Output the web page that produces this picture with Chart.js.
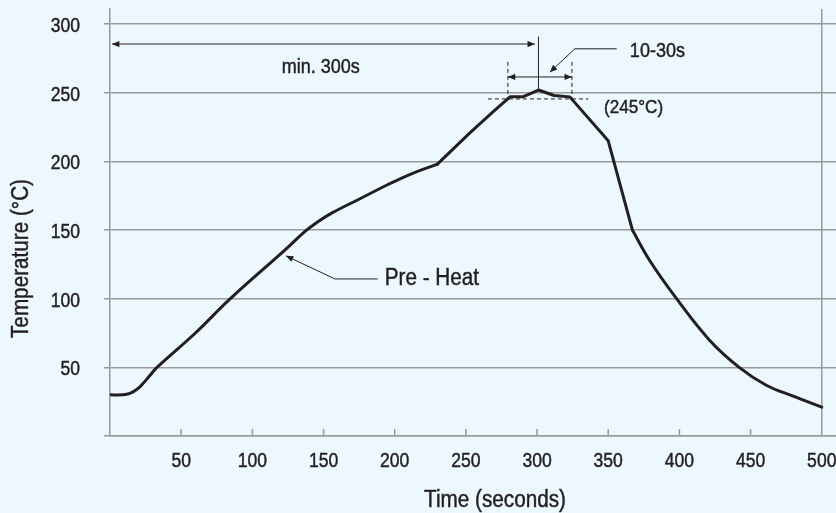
<!DOCTYPE html>
<html>
<head>
<meta charset="utf-8">
<script src="https://cdn.jsdelivr.net/npm/chart.js@4.4.0/dist/chart.umd.min.js"></script>
<style>
  html, body { margin: 0; padding: 0; background: #edf7fe; }
  #wrap { width: 836px; height: 513px; }
</style>
</head>
<body>
<div id="wrap"><canvas id="reflow"></canvas></div>
<script>
// Reflow soldering profile
const timeSec = [0, 9, 14, 19, 23, 28, 33, 60, 84, 123, 137, 146, 156, 176, 195, 213, 230, 253, 270, 281, 290, 301, 312, 323, 350, 367, 379, 398, 421, 442, 461, 480, 500];
const tempC   = [30, 30, 31, 34, 38, 44, 50, 75, 99.5, 135.5, 149, 156, 162.5, 173, 183, 191.5, 198, 221, 237, 247, 247, 252, 248, 247, 215, 150, 128, 100, 70, 50, 37, 29, 21];
const xTickValues = [0, 50, 100, 150, 200, 250, 300, 350, 400, 450, 500];
const yTickValues = [0, 50, 100, 150, 200, 250, 300];
const xTitle = 'Time (seconds)';
const yTitle = 'Temperature (°C)';
// where the curve has a hard corner: smooth between, straight in the reflow zone
const kinks = [230, 367];

const FONT = '"Liberation Sans", Arial, sans-serif';
const SQUEEZE = 0.9;   // condensed look
const INK = '#231f20';
const GRID = '#9a9a9a';

// --- helpers ---
function arrowHead(ctx, x0, y0, x1, y1, size) {
    const a = Math.atan2(y1 - y0, x1 - x0);
    ctx.beginPath();
    ctx.moveTo(x1, y1);
    ctx.lineTo(x1 - size * Math.cos(a - 0.4), y1 - size * Math.sin(a - 0.4));
    ctx.lineTo(x1 - size * Math.cos(a + 0.4), y1 - size * Math.sin(a + 0.4));
    ctx.closePath();
    ctx.fill();
}

function line(ctx, pts) {
    ctx.beginPath();
    ctx.moveTo(pts[0][0], pts[0][1]);
    pts.slice(1).forEach(p => ctx.lineTo(p[0], p[1]));
    ctx.stroke();
}

function text(ctx, str, x, y, size, align, rot) {
    ctx.save();
    ctx.translate(x, y);
    if (rot) ctx.rotate(rot);
    ctx.scale(SQUEEZE, 1);
    ctx.font = size + 'px ' + FONT;
    ctx.textAlign = align;
    ctx.textBaseline = 'alphabetic';
    ctx.fillStyle = INK;
    ctx.strokeStyle = INK;
    ctx.lineWidth = 0.45;
    ctx.fillText(str, 0, 0);
    ctx.strokeText(str, 0, 0);
    ctx.restore();
}

// inward x ticks, tick labels, titles and the annotations
const profileNotes = {
    id: 'profileNotes',
    beforeDatasetsDraw(chart) {
        const { ctx, chartArea: a, scales: { x } } = chart;
        ctx.save();
        ctx.strokeStyle = GRID;
        ctx.lineWidth = 1.5;
        x.ticks.forEach(t => {
            if (t.value === 0) return;
            const px = x.getPixelForValue(t.value);
            line(ctx, [[px, a.bottom], [px, t.value === 500 ? a.top : a.bottom - 7]]);
        });
        ctx.restore();
    },
    afterDatasetsDraw(chart) {
        const { ctx, chartArea: a, scales: { x, y } } = chart;
        const P = (t, v) => [x.getPixelForValue(t), y.getPixelForValue(v)];

        // tick labels + axis titles
        x.ticks.forEach(t => {
            if (t.value) text(ctx, String(t.value), x.getPixelForValue(t.value), a.bottom + 31, 19.5, 'center');
        });
        y.ticks.forEach(t => {
            if (t.value) text(ctx, String(t.value), a.left - 30, y.getPixelForValue(t.value) + 8, 19.5, 'right');
        });
        text(ctx, xTitle, 495, chart.height - 6, 23, 'center');
        text(ctx, yTitle, 28, chart.height / 2 + 2, 23, 'center', -Math.PI / 2);

        ctx.save();
        ctx.strokeStyle = INK;
        ctx.fillStyle = INK;
        ctx.lineWidth = 1;

        // min. 300s span
        const m0 = P(1.4, 285.5), m1 = P(298.5, 285.5);
        line(ctx, [m0, m1]);
        arrowHead(ctx, m1[0], m1[1], m0[0], m0[1], 8);
        arrowHead(ctx, m0[0], m0[1], m1[0], m1[1], 8);

        // peak marker
        line(ctx, [P(301, 291), P(301, 252)]);

        // 10-30s window
        ctx.setLineDash([4, 3]);
        line(ctx, [P(279.5, 272.5), P(279.5, 245.5)]);
        line(ctx, [P(324.5, 272.5), P(324.5, 245.5)]);
        line(ctx, [P(265.5, 245.5), P(336, 245.5)]);
        ctx.setLineDash([]);
        const w0 = P(279.5, 261.5), w1 = P(324.5, 261.5);
        line(ctx, [w0, w1]);
        arrowHead(ctx, w1[0], w1[1], w0[0], w0[1], 8);
        arrowHead(ctx, w0[0], w0[1], w1[0], w1[1], 8);

        // leaders
        const l1 = [P(356, 282), P(326.5, 282), P(309, 265)];
        line(ctx, l1);
        arrowHead(ctx, l1[1][0], l1[1][1], l1[2][0], l1[2][1], 8);
        const l2 = [P(188, 114.4), P(158, 114.4), P(123.6, 131.2)];
        line(ctx, l2);
        arrowHead(ctx, l2[1][0], l2[1][1], l2[2][0], l2[2][1], 8);
        ctx.restore();

        // annotation labels
        let p = P(148, 264.6);
        text(ctx, 'min. 300s', p[0], p[1], 20, 'center');
        p = P(365.2, 276.2);
        text(ctx, '10-30s', p[0], p[1], 20, 'left');
        p = P(347, 235.4);
        text(ctx, '(245°C)', p[0], p[1], 19, 'left');
        p = P(193, 110);
        text(ctx, 'Pre - Heat', p[0], p[1], 23, 'left');
    }
};

const points = timeSec.map((t, i) => ({ x: t, y: tempC[i] }));
const section = (from, to) => points.filter(p => p.x >= from && p.x <= to);
const curveStyle = {
    borderColor: INK,
    borderWidth: 3,
    borderJoinStyle: 'round',
    borderCapStyle: 'round',
    pointRadius: 0,
    fill: false
};

new Chart(document.getElementById('reflow'), {
    type: 'line',
    data: {
        datasets: [
            { ...curveStyle, data: section(0, kinks[0]), tension: 0.4 },
            { ...curveStyle, data: section(kinks[0], kinks[1]), tension: 0 },
            { ...curveStyle, data: section(kinks[1], 500), tension: 0.4 }
        ]
    },
    options: {
        responsive: true,
        maintainAspectRatio: false,
        animation: false,
        layout: { padding: { top: 9, right: 0, left: 0, bottom: 0 } },
        plugins: { legend: { display: false }, tooltip: { enabled: false } },
        scales: {
            x: {
                type: 'linear',
                min: 0,
                max: 510,
                afterBuildTicks: s => { s.ticks = xTickValues.map(v => ({ value: v })); },
                afterFit: s => { s.height = 77; s.paddingLeft = 0; s.paddingRight = 0; },
                grid: { display: false },
                border: { display: true, color: GRID, width: 1.5 },
                ticks: { display: false }
            },
            y: {
                min: 0,
                max: 311,
                afterBuildTicks: s => { s.ticks = yTickValues.map(v => ({ value: v })); },
                afterFit: s => { s.width = 110; s.paddingTop = 0; s.paddingBottom = 0; },
                grid: { color: GRID, lineWidth: 1.5, tickLength: 6, drawTicks: true },
                border: { display: true, color: GRID, width: 1.5 },
                ticks: { display: false }
            }
        }
    },
    plugins: [profileNotes]
});
</script>
</body>
</html>
